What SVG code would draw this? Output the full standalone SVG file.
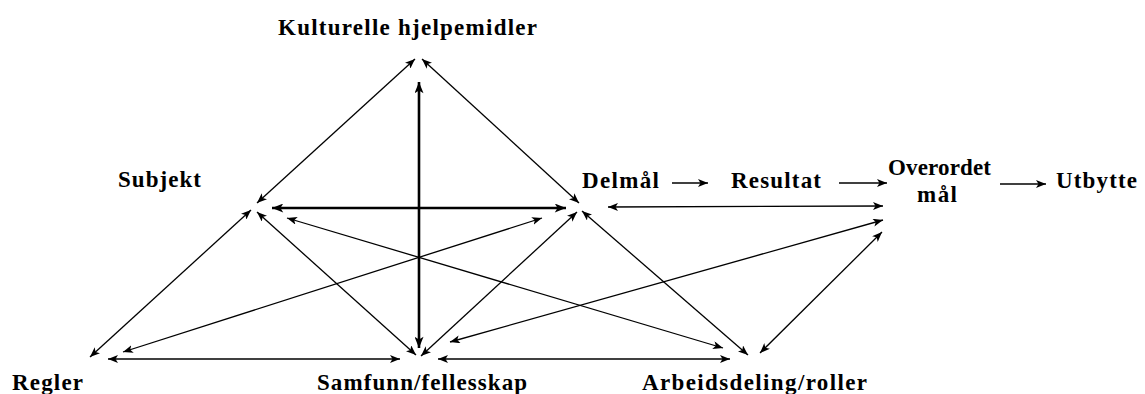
<svg xmlns="http://www.w3.org/2000/svg" width="1145" height="394" viewBox="0 0 1145 394">
<style>
.lbl{font-family:"Liberation Serif","Times New Roman",serif;font-weight:bold;font-size:23px;fill:#000}
.c{stroke:#000;stroke-width:1.3;fill:none;marker-start:url(#ah);marker-end:url(#ah)}
.s{stroke:#000;stroke-width:1.3;fill:none;marker-end:url(#ah)}
.b{stroke:#000;stroke-width:2.6;fill:none;marker-start:url(#ahb);marker-end:url(#ahb)}
</style>
<defs>
<marker id="ah" viewBox="0 0 10 8" refX="10" refY="4" markerWidth="10" markerHeight="8" markerUnits="userSpaceOnUse" orient="auto-start-reverse">
<path d="M0,0 L10,4 L0,8 L2.5,4 z" fill="#000"/>
</marker>
<marker id="ahb" viewBox="0 0 10 8" refX="10" refY="4" markerWidth="12" markerHeight="9" markerUnits="userSpaceOnUse" orient="auto-start-reverse">
<path d="M0,0 L10,4 L0,8 L2.5,4 z" fill="#000"/>
</marker>
</defs>
<rect width="1145" height="394" fill="#fff"/>
<g id="connectors">
<line class="c" x1="257" y1="203" x2="415" y2="59"/>
<line class="c" x1="579" y1="203" x2="422" y2="59"/>
<line class="b" x1="419" y1="82" x2="419" y2="348"/>
<line class="b" x1="272" y1="208" x2="566" y2="208"/>
<line class="c" x1="251" y1="210" x2="90" y2="357"/>
<line class="c" x1="257" y1="212" x2="416" y2="355"/>
<line class="c" x1="577" y1="212" x2="421" y2="356"/>
<line class="c" x1="582" y1="211" x2="748" y2="355"/>
<line class="c" x1="108" y1="359" x2="400" y2="359"/>
<line class="c" x1="438" y1="359" x2="730" y2="359"/>
<line class="c" x1="287" y1="218" x2="723" y2="348"/>
<line class="c" x1="123" y1="352" x2="542" y2="218"/>
<line class="c" x1="450" y1="342" x2="883" y2="220"/>
<line class="c" x1="760" y1="353" x2="882" y2="232"/>
<line class="c" x1="608" y1="207" x2="883" y2="206"/>
<line class="s" x1="672" y1="183" x2="708" y2="183"/>
<line class="s" x1="839" y1="183" x2="887" y2="183"/>
<line class="s" x1="1000" y1="184" x2="1046" y2="184"/>
</g>
<g id="kulturelle"><text class="lbl" x="278" y="35" textLength="259">Kulturelle hjelpemidler</text></g>
<g id="subjekt"><text class="lbl" x="118" y="187" textLength="83">Subjekt</text></g>
<g id="delmal"><text class="lbl" x="582" y="188" textLength="77">Delmål</text></g>
<g id="resultat"><text class="lbl" x="731" y="188" textLength="90">Resultat</text></g>
<g id="overordet"><text class="lbl" x="888" y="175" textLength="103">Overordet</text><text class="lbl" x="917" y="202" textLength="40">mål</text></g>
<g id="utbytte"><text class="lbl" x="1056" y="188" textLength="81">Utbytte</text></g>
<g id="regler"><text class="lbl" x="12" y="390" textLength="71">Regler</text></g>
<g id="samfunn"><text class="lbl" x="317" y="390" textLength="210">Samfunn/fellesskap</text></g>
<g id="arbeidsdeling"><text class="lbl" x="642" y="390" textLength="225">Arbeidsdeling/roller</text></g>
</svg>
